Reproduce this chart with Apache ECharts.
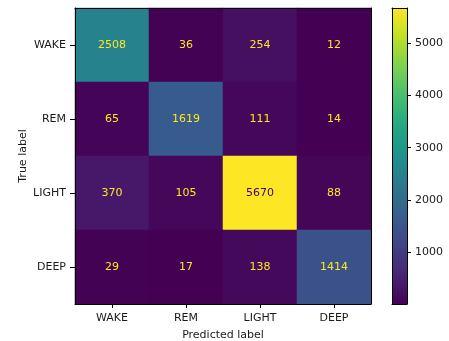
<!DOCTYPE html>
<html><head><meta charset="utf-8">
<script src="https://cdn.jsdelivr.net/npm/echarts@6/dist/echarts.min.js"></script>
<style>html,body{margin:0;padding:0;background:#fff}#c{width:449px;height:341px}</style>
</head><body><div id="c"></div>
<script>
const predictedLabels = ['WAKE', 'REM', 'LIGHT', 'DEEP'];
const trueLabels = ['WAKE', 'REM', 'LIGHT', 'DEEP'];
const rowWAKE = [2508, 36, 254, 12];
const rowREM = [65, 1619, 111, 14];
const rowLIGHT = [370, 105, 5670, 88];
const rowDEEP = [29, 17, 138, 1414];
const colorbarTicks = [1000, 2000, 3000, 4000, 5000];

const viridis = ['#440154','#482475','#414487','#355f8d','#2a788e','#21918c','#22a884','#44bf70','#7ad151','#bddf26','#fde725'];
const rows = [rowWAKE, rowREM, rowLIGHT, rowDEEP];
const all = rows.flat();
const vmin = Math.min(...all), vmax = Math.max(...all);
const thresh = (vmin + vmax) / 2;
const data = [];
rows.forEach((r, yi) => r.forEach((v, xi) => {
  data.push({ value: [xi, yi, v], label: { color: v < thresh ? viridis[viridis.length - 1] : viridis[0] } });
}));
const FS = 11, TXT = '#1a1a1a', FF = 'DejaVu Sans';
const line = { show: true, lineStyle: { color: '#000', width: 1 } };
const off = { show: false };
const chart = echarts.init(document.getElementById('c'), null, { renderer: 'canvas' });
chart.setOption({
  animation: false,
  textStyle: { fontFamily: FF },
  grid: [
    { left: 75, top: 8, width: 296, height: 296, containLabel: false, outerBoundsMode: 'none' },
    { left: 392, top: 8, width: 15, height: 296, containLabel: false, outerBoundsMode: 'none' }
  ],
  xAxis: [
    { type: 'category', gridIndex: 0, data: predictedLabels, position: 'bottom', z: 10,
      axisLine: line, axisTick: { show: true, alignWithLabel: true, length: 4, lineStyle: { color: '#000' } },
      axisLabel: { color: TXT, fontSize: FS, fontFamily: FF, margin: 9 }, splitLine: off, splitArea: off,
      name: 'Predicted label', nameLocation: 'middle', nameGap: 26, nameMoveOverlap: false,
      nameTextStyle: { color: TXT, fontSize: FS, fontFamily: FF } },
    { type: 'category', gridIndex: 0, data: predictedLabels, position: 'top', z: 10,
      axisLine: line, axisTick: off, axisLabel: off, splitLine: off, splitArea: off },
    { type: 'category', gridIndex: 1, data: [''], position: 'bottom', z: 10,
      axisLine: line, axisTick: off, axisLabel: off, splitLine: off, splitArea: off },
    { type: 'category', gridIndex: 1, data: [''], position: 'top', z: 10,
      axisLine: line, axisTick: off, axisLabel: off, splitLine: off, splitArea: off }
  ],
  yAxis: [
    { type: 'category', gridIndex: 0, data: trueLabels, inverse: true, position: 'left', z: 10,
      axisLine: line, axisTick: { show: true, alignWithLabel: true, length: 5, lineStyle: { color: '#000' } },
      axisLabel: { color: TXT, fontSize: FS, fontFamily: FF, margin: 9 }, splitLine: off, splitArea: off,
      name: 'True label', nameLocation: 'middle', nameGap: 46, nameRotate: 90, nameMoveOverlap: false,
      nameTextStyle: { color: TXT, fontSize: FS, fontFamily: FF } },
    { type: 'category', gridIndex: 0, data: trueLabels, inverse: true, position: 'right', z: 10,
      axisLine: line, axisTick: off, axisLabel: off, splitLine: off, splitArea: off },
    { type: 'value', gridIndex: 1, position: 'right', min: vmin, max: vmax, z: 10,
      axisLine: line,
      axisTick: { show: true, length: 4, customValues: colorbarTicks, lineStyle: { color: '#000' } },
      axisLabel: { show: true, customValues: colorbarTicks, color: TXT, fontSize: FS, fontFamily: FF, margin: 8,
        formatter: (v) => String(v) },
      splitLine: off },
    { type: 'value', gridIndex: 1, position: 'left', min: vmin, max: vmax, z: 10,
      axisLine: line, axisTick: off, axisLabel: off, splitLine: off }
  ],
  visualMap: {
    show: false, type: 'continuous', seriesIndex: 0, min: vmin, max: vmax, dimension: 2,
    inRange: { color: viridis }
  },
  series: [
    { type: 'heatmap', xAxisIndex: 0, yAxisIndex: 0, data: data,
      label: { show: true, fontSize: FS, fontFamily: FF },
      emphasis: { disabled: true }, silent: true },
    { type: 'bar', xAxisIndex: 2, yAxisIndex: 2, data: [vmax], barWidth: '100%', silent: true,
      itemStyle: { color: { type: 'linear', x: 0, y: 1, x2: 0, y2: 0,
        colorStops: viridis.map((c, i) => ({ offset: i / (viridis.length - 1), color: c })) } } }
  ]
});
</script></body></html>
